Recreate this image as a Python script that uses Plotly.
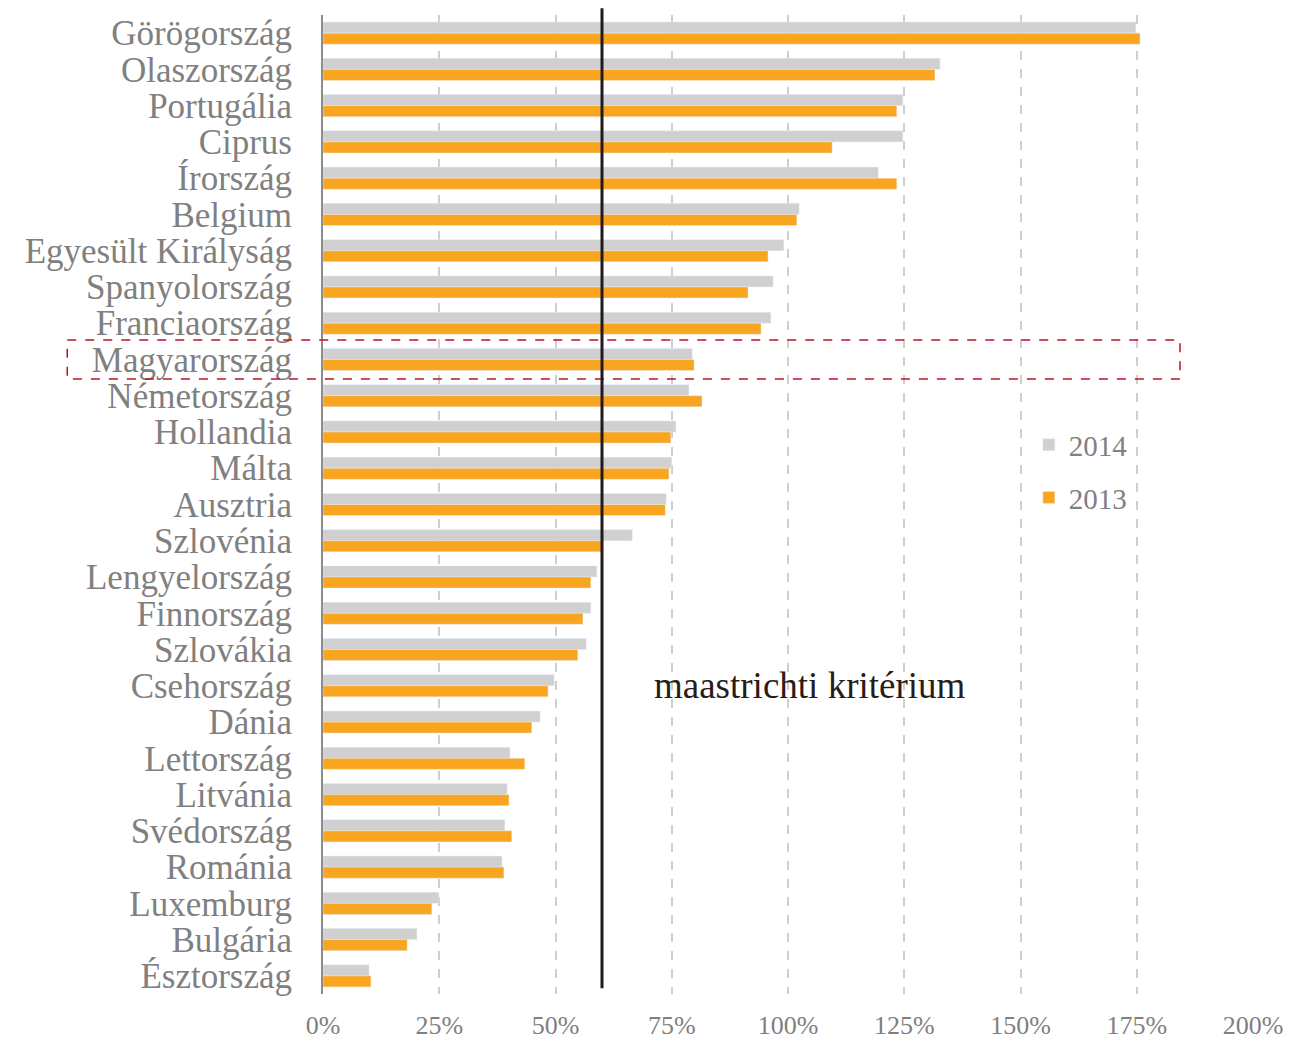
import plotly.graph_objects as go

countries = ["Görögország", "Olaszország", "Portugália", "Ciprus", "Írország", "Belgium",
             "Egyesült Királyság", "Spanyolország", "Franciaország", "Magyarország",
             "Németország", "Hollandia", "Málta", "Ausztria", "Szlovénia", "Lengyelország",
             "Finnország", "Szlovákia", "Csehország", "Dánia", "Lettország", "Litvánia",
             "Svédország", "Románia", "Luxemburg", "Bulgária", "Észtország"]
debt_2014 = [174.8, 132.7, 124.7, 124.7, 119.4, 102.4, 99.1, 96.8, 96.3, 79.4,
             78.7, 75.9, 75.0, 73.8, 66.5, 58.9, 57.6, 56.6, 49.7, 46.7,
             40.2, 39.6, 39.1, 38.5, 24.9, 20.2, 9.9]
debt_2013 = [175.7, 131.6, 123.4, 109.5, 123.4, 101.9, 95.7, 91.4, 94.2, 79.8,
             81.5, 74.8, 74.4, 73.6, 60.2, 57.6, 55.9, 54.8, 48.4, 44.9,
             43.4, 40.0, 40.6, 38.9, 23.4, 18.1, 10.3]
x_ticks = [0, 25, 50, 75, 100, 125, 150, 175, 200]
x_tick_labels = ["0%", "25%", "50%", "75%", "100%", "125%", "150%", "175%", "200%"]
criterion = 60
highlight = "Magyarország"

serif = "Liberation Serif, DejaVu Serif, serif"
gray_txt = "#808080"

fig = go.Figure()
fig.add_trace(go.Bar(y=countries, x=debt_2014, orientation="h", name="2014",
                     marker=dict(color="#d0d0d0"), legendgroup="a"))
fig.add_trace(go.Bar(y=countries, x=debt_2013, orientation="h", name="2013",
                     marker=dict(color="#f9a51f"), legendgroup="b"))

hi = countries.index(highlight)
fig.add_shape(type="rect", xref="paper", yref="y", x0=-0.275, x1=0.9215,
              y0=hi - 0.54, y1=hi + 0.54,
              line=dict(color="#c0141c", width=1.5, dash="dash"), fillcolor="rgba(0,0,0,0)",
              layer="above")
fig.add_shape(type="line", xref="x", yref="paper", x0=criterion, x1=criterion, y0=0.006, y1=1.007,
              line=dict(color="#231a1f", width=3), layer="above")

fig.add_annotation(x=104.7, y="Csehország", text="maastrichti kritérium", showarrow=False,
                   font=dict(family=serif, size=37, color="#2b1b17"))

fig.update_layout(
    width=1301, height=1044,
    margin=dict(l=323, r=48, t=15, b=50),
    plot_bgcolor="white", paper_bgcolor="white",
    barmode="group", bargap=0.39, bargroupgap=0,
    font=dict(family=serif, color=gray_txt),
    legend=dict(x=0.759, y=0.587, xanchor="left", yanchor="top",
                font=dict(size=29, color=gray_txt), tracegroupgap=12,
                bgcolor="rgba(0,0,0,0)", itemwidth=30),
    showlegend=True,
)
fig.update_xaxes(range=[0, 200], tickvals=x_ticks, ticktext=x_tick_labels,
                 showgrid=True, gridcolor="#cfcfcf", gridwidth=1.5, griddash="dash",
                 zeroline=False, showline=False, ticks="", automargin=False,
                 tickfont=dict(size=26, color=gray_txt), ticklabelstandoff=13)
fig.update_yaxes(autorange="reversed", showgrid=False, zeroline=False,
                 tickmode="array", tickvals=countries, ticktext=countries,
                 showline=True, linecolor="#8c8c8c", linewidth=2, ticks="", automargin=False,
                 tickfont=dict(size=35, color=gray_txt), ticklabelstandoff=22)

fig.write_html("out.html", config={"displayModeBar": False},
               post_script="document.body.style.margin='0';document.body.style.overflow='hidden';")
